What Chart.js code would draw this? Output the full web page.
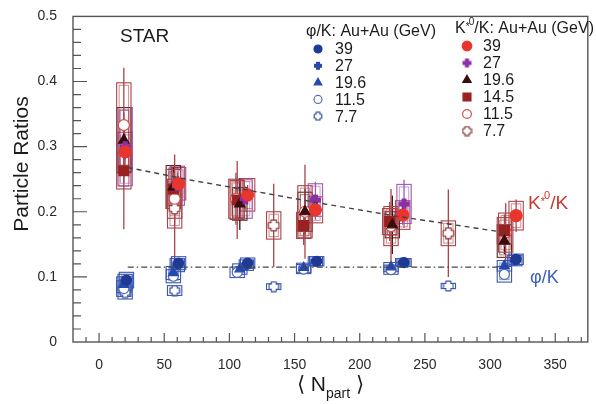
<!DOCTYPE html>
<html>
<head>
<meta charset="utf-8">
<script src="https://cdn.jsdelivr.net/npm/chart.js@4.4.1/dist/chart.umd.min.js"></script>
<style>
  html, body { margin: 0; padding: 0; background: #fff; }
</style>
</head>
<body>
<canvas id="chart" width="596" height="404"></canvas>
<script>
// --- data ---
const X_TICKS = [0, 50, 100, 150, 200, 250, 300, 350];
const Y_TICKS = [0, 0.1, 0.2, 0.3, 0.4, 0.5];

// [Npart, ratio, stat err, sys err]
const KSTAR_39 = [[20, 0.292, 0.02, 0.03], [61, 0.243, 0.012, 0.025], [114, 0.226, 0.015, 0.025], [166, 0.203, 0.015, 0.02], [233, 0.195, 0.015, 0.022], [320, 0.194, 0.025, 0.022]];
const KSTAR_27 = [[20, 0.300, 0.02, 0.06], [60, 0.240, 0.02, 0.03], [112, 0.220, 0.02, 0.03], [166, 0.218, 0.028, 0.025], [234, 0.212, 0.037, 0.03]];
const KSTAR_196 = [[19, 0.310, 0.03, 0.05], [57, 0.238, 0.03, 0.033], [108, 0.212, 0.04, 0.025], [158, 0.200, 0.035, 0.03], [225, 0.180, 0.045, 0.02], [311, 0.155, 0.02, 0.025]];
const KSTAR_145 = [[19, 0.263, 0.09, 0.028], [57, 0.235, 0.025, 0.03], [106, 0.218, 0.06, 0.03], [157, 0.179, 0.03, 0.02], [223, 0.185, 0.03, 0.02], [311, 0.171, 0.025, 0.02]];
const KSTAR_115 = [[19, 0.333, 0.088, 0.065], [58, 0.220, 0.04, 0.03], [105, 0.220, 0.04, 0.03], [158, 0.200, 0.072, 0.04], [224, 0.178, 0.057, 0.03], [312, 0.168, 0.045, 0.03]];
const KSTAR_77 = [[58, 0.205, 0.083, 0.03], [134, 0.179, 0.064, 0.021], [268, 0.167, 0.067, 0.019]];

const PHI_39 = [[21, 0.095, 0.004, 0.012], [61, 0.121, 0.004, 0.01], [114, 0.121, 0.003, 0.008], [167, 0.124, 0.003, 0.007], [234, 0.122, 0.003, 0.006], [320, 0.127, 0.004, 0.008]];
const PHI_27 = [[20, 0.092, 0.004, 0.012], [60, 0.118, 0.004, 0.01], [113, 0.118, 0.003, 0.008], [166, 0.124, 0.003, 0.007], [233, 0.122, 0.003, 0.006], [319, 0.125, 0.004, 0.008]];
const PHI_196 = [[19, 0.088, 0.004, 0.012], [57, 0.106, 0.004, 0.01], [108, 0.112, 0.003, 0.008], [157, 0.114, 0.003, 0.007], [224, 0.115, 0.003, 0.007], [311, 0.117, 0.004, 0.008]];
const PHI_115 = [[19, 0.082, 0.004, 0.012], [57, 0.101, 0.004, 0.01], [106, 0.107, 0.003, 0.008], [157, 0.112, 0.003, 0.007], [224, 0.111, 0.003, 0.007], [311, 0.104, 0.004, 0.012]];
const PHI_77 = [[20, 0.076, 0.004, 0.01], [58, 0.079, 0.004, 0.0075], [134, 0.085, 0.003, 0.0045], [268, 0.086, 0.003, 0.004]];

const KSTAR_FIT = [[22, 0.268], [72, 0.248], [123, 0.230], [173, 0.212], [229, 0.193], [312, 0.168]];
const PHI_FIT = [[22, 0.115], [312, 0.115]];

const KSTAR_LABELS = ['39', '27', '19.6', '14.5', '11.5', '7.7'];
const PHI_LABELS = ['39', '27', '19.6', '11.5', '7.7'];

// --- styles ---
const FONT = "'Liberation Sans', Arial, Helvetica, sans-serif";
const INK = '#1c1c1c';
const BOX_HALF = 5.5; // half-width of systematic boxes, in Npart units

function plusMarker(size, t, fill, stroke, lw) {
  const c = document.createElement('canvas');
  c.width = c.height = size;
  const g = c.getContext('2d');
  const m = size / 2, h = t / 2, r = size / 2 - lw;
  g.beginPath();
  g.moveTo(m - h, m - r); g.lineTo(m + h, m - r); g.lineTo(m + h, m - h);
  g.lineTo(m + r, m - h); g.lineTo(m + r, m + h); g.lineTo(m + h, m + h);
  g.lineTo(m + h, m + r); g.lineTo(m - h, m + r); g.lineTo(m - h, m + h);
  g.lineTo(m - r, m + h); g.lineTo(m - r, m - h); g.lineTo(m - h, m - h);
  g.closePath();
  g.lineJoin = 'round';
  if (fill) { g.fillStyle = fill; g.fill(); }
  if (stroke) { g.strokeStyle = stroke; g.lineWidth = lw; g.stroke(); }
  return c;
}

const toPts = arr => arr.map(([x, y, stat, sys]) => ({ x, y, stat, sys }));

function series(label, group, arr, o) {
  return Object.assign({
    label, group, errs: true,
    data: toPts(arr),
    pointRadius: 5.5, pointBorderWidth: 1.2,
  }, o);
}

const datasets = [
  series('39', 'k', KSTAR_39, { pointStyle: 'circle', pointRadius: 6, backgroundColor: '#e8352e', borderColor: '#e8352e', boxColor: '#b0474c', statColor: '#b0474c', order: 1 }),
  series('27', 'k', KSTAR_27, { pointStyle: plusMarker(13, 5, '#8a2fa8', null, 1), legendStyle: plusMarker(11, 4, '#8a2fa8', null, 1), boxColor: '#9c5bb4', statColor: '#9c5bb4', order: 2 }),
  series('19.6', 'k', KSTAR_196, { pointStyle: 'triangle', pointRadius: 6, backgroundColor: '#3a0d0d', borderColor: '#3a0d0d', boxColor: '#5a2525', statColor: '#3a0d0d', order: 3 }),
  series('14.5', 'k', KSTAR_145, { pointStyle: 'rect', pointRadius: 7, backgroundColor: '#9b2020', borderColor: '#9b2020', boxColor: '#a8444a', statColor: '#a8444a', order: 4 }),
  series('11.5', 'k', KSTAR_115, { pointStyle: 'circle', pointRadius: 5.5, backgroundColor: '#fff', borderColor: '#d05050', boxColor: '#a8444a', statColor: '#a8444a', order: 5 }),
  series('7.7', 'k', KSTAR_77, { pointStyle: plusMarker(13, 5.5, '#fff', '#8b3535', 1.2), legendStyle: plusMarker(11, 4.5, '#fff', '#8b3535', 1.2), boxColor: '#a8444a', statColor: '#a8444a', order: 6 }),

  series('39', 'p', PHI_39, { pointStyle: 'circle', pointRadius: 5, backgroundColor: '#1f3a94', borderColor: '#1f3a94', boxColor: '#3a58b0', statColor: '#3a58b0', order: 1 }),
  series('27', 'p', PHI_27, { pointStyle: plusMarker(12, 5, '#2a48a8', null, 1), legendStyle: plusMarker(10, 4, '#2a48a8', null, 1), boxColor: '#3a58b0', statColor: '#3a58b0', order: 2 }),
  series('19.6', 'p', PHI_196, { pointStyle: 'triangle', pointRadius: 5.5, backgroundColor: '#2548b0', borderColor: '#2548b0', boxColor: '#3a58b0', statColor: '#3a58b0', order: 3 }),
  series('11.5', 'p', PHI_115, { pointStyle: 'circle', pointRadius: 5, backgroundColor: '#fff', borderColor: '#5a6eb0', boxColor: '#3a58b0', statColor: '#3a58b0', order: 4 }),
  series('7.7', 'p', PHI_77, { pointStyle: plusMarker(12, 5, '#fff', '#3a55a0', 1.2), legendStyle: plusMarker(10, 4, '#fff', '#3a55a0', 1.2), boxColor: '#3a58b0', statColor: '#3a58b0', order: 5 }),

  { type: 'line', label: 'kfit', data: KSTAR_FIT.map(([x, y]) => ({ x, y })), borderColor: '#444', borderWidth: 1.4, borderDash: [5, 4], pointRadius: 0, fill: false, order: 0 },
  { type: 'line', label: 'pfit', data: PHI_FIT.map(([x, y]) => ({ x, y })), borderColor: '#444', borderWidth: 1.4, borderDash: [6, 3, 1.5, 3], pointRadius: 0, fill: false, order: 0 },
];

function drawMarker(ctx, ds, x, y, scale) {
  const style = ds.legendStyle || ds.pointStyle;
  if (style instanceof HTMLCanvasElement) {
    ctx.drawImage(style, x - style.width / 2, y - style.height / 2);
    return;
  }
  ctx.save();
  ctx.fillStyle = ds.backgroundColor;
  ctx.strokeStyle = ds.borderColor;
  ctx.lineWidth = ds.pointBorderWidth;
  Chart.helpers.drawPoint(ctx, { pointStyle: style, radius: ds.pointRadius * scale, borderWidth: ds.pointBorderWidth, rotation: 0 }, x, y);
  ctx.restore();
}

// systematic boxes + statistical bars, under the markers
const errorMarks = {
  id: 'errorMarks',
  beforeDatasetsDraw(chart) {
    const { ctx, scales: { x, y } } = chart;
    ctx.save();
    chart.data.datasets.forEach(ds => {
      if (!ds.errs) return;
      ds.data.forEach(p => {
        const px = x.getPixelForValue(p.x);
        const x0 = x.getPixelForValue(p.x - BOX_HALF), x1 = x.getPixelForValue(p.x + BOX_HALF);
        const yt = y.getPixelForValue(p.y + p.sys), yb = y.getPixelForValue(p.y - p.sys);
        ctx.strokeStyle = ds.boxColor;
        ctx.lineWidth = 1.1;
        ctx.strokeRect(x0, yt, x1 - x0, yb - yt);
        if (yb - yt > 7) {
          ctx.globalAlpha = 0.55;
          ctx.strokeRect(x0 + 2.5, yt + 2.5, x1 - x0 - 5, yb - yt - 5);
          ctx.globalAlpha = 1;
        }
        ctx.strokeStyle = ds.statColor;
        ctx.lineWidth = 1.3;
        ctx.beginPath();
        ctx.moveTo(px, y.getPixelForValue(p.y + p.stat));
        ctx.lineTo(px, y.getPixelForValue(p.y - p.stat));
        ctx.stroke();
      });
    });
    ctx.restore();
  },
};

function kstarText(ctx, x, y, size, tail) {
  ctx.font = `${size}px ${FONT}`;
  ctx.fillText('K', x, y);
  let cx = x + ctx.measureText('K').width;
  ctx.font = `${Math.round(size * 0.6)}px ${FONT}`;
  ctx.fillText('*', cx, y - size * 0.1);
  const sw = ctx.measureText('*').width;
  ctx.fillText('0', cx + sw * 0.8, y - size * 0.4);
  cx += sw * 0.8 + ctx.measureText('0').width;
  ctx.font = `${size}px ${FONT}`;
  ctx.fillText(tail, cx, y);
}

const decorations = {
  id: 'decorations',
  afterDraw(chart) {
    const { ctx, chartArea: a, scales: { x, y } } = chart;
    ctx.save();
    // frame
    ctx.strokeStyle = '#555';
    ctx.lineWidth = 1.4;
    ctx.strokeRect(a.left, a.top, a.right - a.left, a.bottom - a.top);
    // inward ticks
    ctx.lineWidth = 1.2;
    ctx.beginPath();
    for (let v = -10; v <= 370; v += 10) {
      const px = x.getPixelForValue(v);
      const len = v % 50 === 0 ? 9 : 5;
      ctx.moveTo(px, a.bottom); ctx.lineTo(px, a.bottom - len);
    }
    for (let i = 1; i < 25; i++) {
      const py = y.getPixelForValue(i * 0.02);
      const len = i % 5 === 0 ? 14 : 8;
      ctx.moveTo(a.left, py); ctx.lineTo(a.left + len, py);
    }
    ctx.stroke();

    ctx.fillStyle = INK;
    ctx.textBaseline = 'middle';
    // axis titles
    ctx.save();
    ctx.translate(22, 164);
    ctx.rotate(-Math.PI / 2);
    ctx.textAlign = 'center';
    ctx.font = `21px ${FONT}`;
    ctx.fillText('Particle Ratios', 0, 0);
    ctx.restore();

    ctx.textBaseline = 'alphabetic';
    ctx.textAlign = 'left';
    const big = `21px ${FONT}`, small = `14px ${FONT}`;
    ctx.font = big; const w1 = ctx.measureText('\u27E8 N').width, w3 = ctx.measureText(' \u27E9').width;
    ctx.font = small; const w2 = ctx.measureText('part').width;
    let tx = (a.left + a.right) / 2 - (w1 + w2 + w3) / 2;
    ctx.font = big; ctx.fillText('\u27E8 N', tx, 391);
    ctx.font = small; ctx.fillText('part', tx + w1, 398);
    ctx.font = big; ctx.fillText(' \u27E9', tx + w1 + w2, 391);

    // STAR
    ctx.font = `19px ${FONT}`;
    ctx.fillText('STAR', 120, 42);

    // legends
    ctx.textBaseline = 'middle';
    ctx.font = `16px ${FONT}`;
    ctx.fillText('\u03C6/K: Au+Au (GeV)', 306, 32);
    kstarText(ctx, 455, 29, 16, '/K: Au+Au (GeV)');
    const phiSets = chart.data.datasets.filter(d => d.group === 'p');
    const kSets = chart.data.datasets.filter(d => d.group === 'k');
    phiSets.forEach((ds, i) => {
      const yy = 49 + i * 16.8;
      drawMarker(ctx, ds, 318, yy, 0.8);
      ctx.fillStyle = INK;
      ctx.font = `16px ${FONT}`;
      ctx.fillText(PHI_LABELS[i], 335, yy + 1);
    });
    kSets.forEach((ds, i) => {
      const yy = 46 + i * 17;
      drawMarker(ctx, ds, 467, yy, 0.8);
      ctx.fillStyle = INK;
      ctx.font = `16px ${FONT}`;
      ctx.fillText(KSTAR_LABELS[i], 483, yy + 1);
    });

    // curve labels
    ctx.fillStyle = '#c8392e';
    kstarText(ctx, 528, 204, 19, '/K');
    ctx.fillStyle = '#3d5fb5';
    ctx.font = `18px ${FONT}`;
    ctx.fillText('\u03C6/K', 530, 278);
    ctx.restore();
  },
};

new Chart(document.getElementById('chart'), {
  type: 'scatter',
  data: { datasets },
  options: {
    responsive: false,
    animation: false,
    layout: { padding: { top: 12, right: 6, left: 0, bottom: 0 } },
    plugins: { legend: { display: false }, tooltip: { enabled: false } },
    scales: {
      x: {
        type: 'linear', min: -20, max: 375,
        afterFit: s => { s.height = 62; },
        afterBuildTicks: s => { s.ticks = X_TICKS.map(v => ({ value: v })); },
        grid: { display: false }, border: { display: false },
        ticks: { color: '#2a2a2a', font: { size: 14, family: FONT }, padding: 7, maxRotation: 0, autoSkip: false },
      },
      y: {
        type: 'linear', min: 0, max: 0.5,
        afterFit: s => { s.width = 73; },
        afterBuildTicks: s => { s.ticks = Y_TICKS.map(v => ({ value: v })); },
        grid: { display: false }, border: { display: false },
        ticks: { color: '#2a2a2a', font: { size: 14, family: FONT }, padding: 8, autoSkip: false,
          callback: v => (v === 0 ? '0' : v.toFixed(1)) },
      },
    },
  },
  plugins: [errorMarks, decorations],
});
</script>
</body>
</html>
